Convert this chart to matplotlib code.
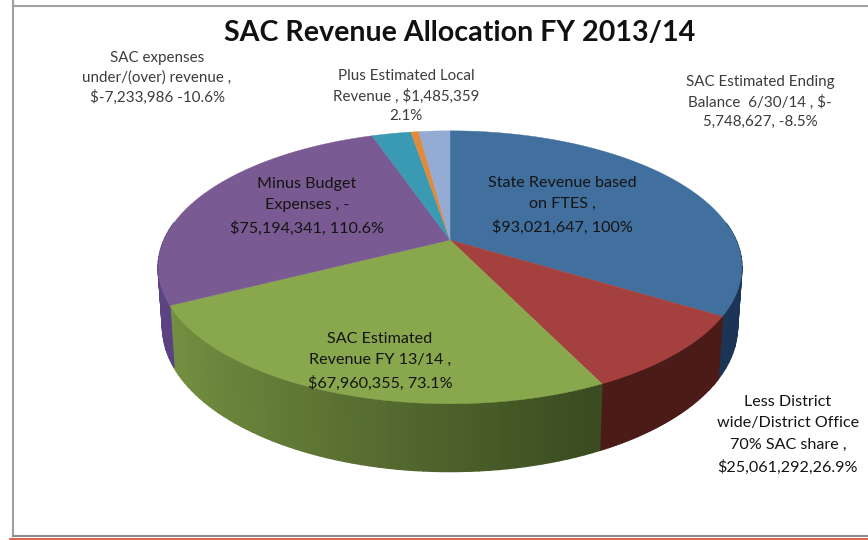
import numpy as np
import matplotlib
matplotlib.use("Agg")
import matplotlib.pyplot as plt
from matplotlib.patches import Polygon

categories = ["State Revenue", "District share", "SAC Revenue", "Budget Expenses",
              "SAC under/over", "Local Revenue", "Ending Balance"]
values = [93021647, 25061292, 67960355, 75194341, 7233986, 1485359, 5748627]
top_colors = ["#41709f", "#a4413f", "#89a74d", "#7a5a92", "#3a9ab3", "#e08a3c", "#94abd3"]
wall_dark = ["#1c3557", "#4a1b17", "#3a4c20", "#4f3a78", "#1f5f70", "#8a5020", "#55688a"]
wall_light = ["#1c3557", "#4a1b17", "#89a74d", "#5f4686", "#1f5f70", "#8a5020", "#55688a"]

title = "SAC Revenue Allocation FY 2013/14"
labels = [
    ("State Revenue based\non FTES ,\n$93,021,647, 100%", 562, 205, 11.65, "#141414", 1.68),
    ("Less District\nwide/District Office\n70% SAC share ,\n$25,061,292,26.9%", 788, 435, 11.65, "#141414", 1.68),
    ("SAC Estimated\nRevenue FY 13/14 ,\n$67,960,355, 73.1%", 380, 361, 11.65, "#141414", 1.68),
    ("Minus Budget\nExpenses , -\n$75,194,341, 110.6%", 307, 206, 11.65, "#141414", 1.68),
    ("SAC expenses\nunder/(over) revenue ,\n$-7,233,986 -10.6%", 157, 78, 10.9, "#3c3c3c", 1.45),
    ("Plus Estimated Local\nRevenue , $1,485,359\n2.1%", 406, 96, 10.9, "#3c3c3c", 1.45),
    ("SAC Estimated Ending\nBalance  6/30/14 , $-\n5,748,627, -8.5%", 760, 102, 10.9, "#3c3c3c", 1.45),
]

plt.rcParams["font.family"] = ["Lato", "DejaVu Sans"]
fig = plt.figure(figsize=(8.68, 5.40), dpi=100)
ax = fig.add_axes([0, 0, 1, 1])
ax.set_xlim(0, 868)
ax.set_ylim(540, 0)
ax.axis("off")

AX, AY = 450, 240
A, B, K = 286, 131, 0.2
DEPTH, SY, SX = 58, 1.06, 0.985


def top(theta):
    u, v = np.sin(theta), np.cos(theta)
    d = 1 + K * v
    return AX + A * u / d, AY - B * v / d


def bottom(theta):
    x, y = top(theta)
    return AX + (x - AX) * SX, AY + (y - AY) * SY + DEPTH


edges = np.cumsum([0] + values) / sum(values) * 2 * np.pi


def mix(c1, c2, t):
    a = np.array(matplotlib.colors.to_rgb(c1))
    b = np.array(matplotlib.colors.to_rgb(c2))
    return tuple(a + (b - a) * t)


for i in range(len(values)):
    th = np.linspace(edges[i], edges[i + 1], 60)
    for a, b in zip(th[:-1], th[1:]):
        mid = (a + b) / 2
        if np.cos(mid) > 0.15:
            continue
        xa, ya = top(a)
        xb, yb = top(b)
        xc, yc = bottom(b)
        xd, yd = bottom(a)
        t = 0.8 * np.clip((0.4 - np.sin(mid)) / 1.4, 0, 1)
        col = mix(wall_dark[i], wall_light[i], t)
        ax.add_patch(Polygon([(xa, ya), (xb, yb), (xc, yc), (xd, yd)], closed=True,
                             fc=col, ec=col, lw=1.0, zorder=2))

for i in range(len(values)):
    th = np.linspace(edges[i], edges[i + 1], 160)
    xs, ys = top(th)
    pts = [(AX, AY)] + list(zip(xs, ys))
    ax.add_patch(Polygon(pts, closed=True, fc=top_colors[i], ec=top_colors[i], lw=0.3, zorder=3))

ax.plot([13, 868], [6, 6], color="#a0a0a0", lw=1.5, zorder=1)
ax.plot([13, 13], [0, 536], color="#a0a0a0", lw=1.5, zorder=1)
ax.plot([13, 868], [536, 536], color="#8f8f8f", lw=1.5, zorder=1)
ax.plot([10, 868], [539, 539], color="#d9482f", lw=1.2, zorder=1)

ax.text(460, 33, title, ha="center", va="center", fontsize=20.65, fontweight="bold",
        color="#111111", zorder=5)
for text, x, y, size, col, spacing in labels:
    ax.text(x, y, text, ha="center", va="center", fontsize=size, color=col,
            linespacing=spacing, zorder=5)

fig.savefig("out.png", dpi=100)
